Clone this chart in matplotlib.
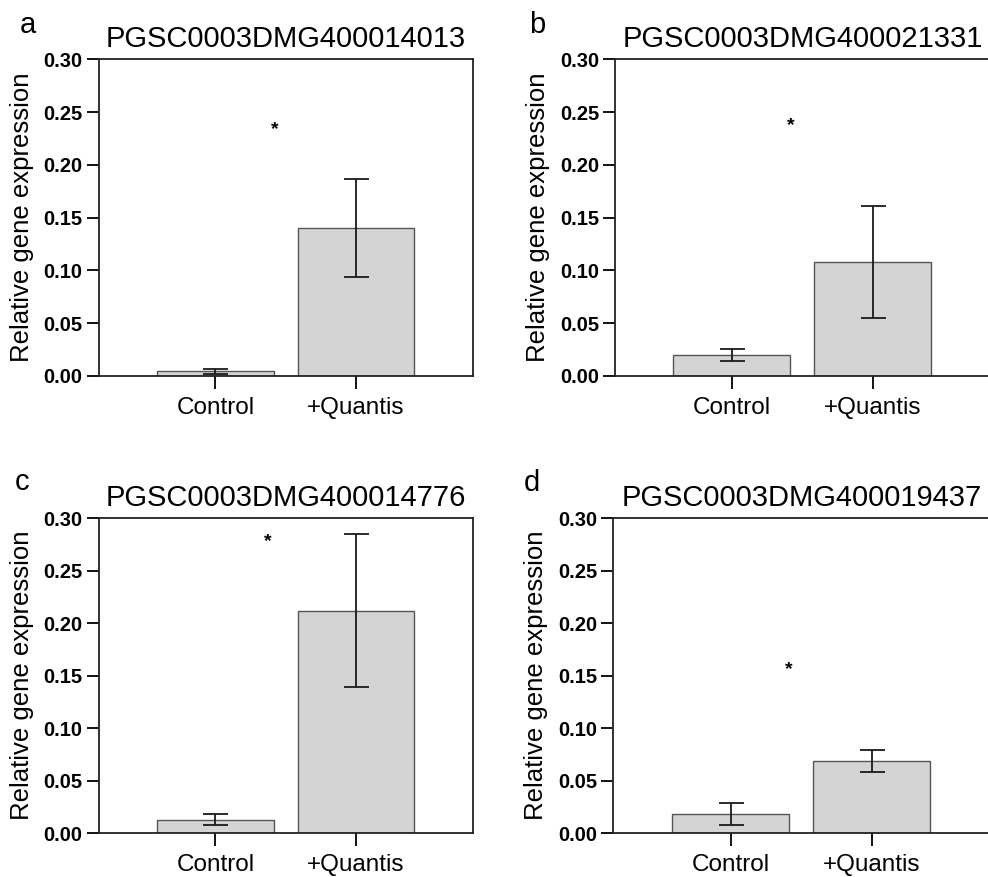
import matplotlib
matplotlib.use('Agg')
import matplotlib.pyplot as plt
import numpy as np

plt.rcParams['font.family'] = ['Liberation Sans', 'DejaVu Sans']

# datos
genes = ['PGSC0003DMG400014013', 'PGSC0003DMG400021331',
         'PGSC0003DMG400014776', 'PGSC0003DMG400019437']
letras = ['a', 'b', 'c', 'd']
grupos = ['Control', '+Quantis']

media_control = [0.0045, 0.020, 0.013, 0.018]
media_quantis = [0.140, 0.108, 0.212, 0.069]
err_control = [0.0025, 0.0055, 0.0054, 0.0107]
err_quantis = [0.0465, 0.0534, 0.0727, 0.0103]

# posicion del asterisco (x en unidades de barra, y en datos)
ast_x = [0.42, 0.42, 0.37, 0.41]
ast_y = [0.233, 0.237, 0.278, 0.156]

ticks_y = [0.00, 0.05, 0.10, 0.15, 0.20, 0.25, 0.30]

fig = plt.figure(figsize=(9.88, 8.77), dpi=100)

# posiciones de los ejes en fraccion de figura
pos = [
    [0.0999, 0.5713, 0.3785, 0.3611],
    [0.6225, 0.5713, 0.3800, 0.3611],
    [0.0999, 0.0500, 0.3785, 0.3590],
    [0.6208, 0.0500, 0.3810, 0.3590],
]
pos_letra = [(0.020, 0.962), (0.535, 0.962), (0.015, 0.441), (0.530, 0.440)]

for i in range(4):
    ax = fig.add_axes(pos[i])
    x = np.arange(2)
    medias = [media_control[i], media_quantis[i]]
    errores = [err_control[i], err_quantis[i]]
    ax.bar(x, medias, width=0.83, color='#d4d4d4', edgecolor='#555555',
           linewidth=1.0, zorder=2)
    ax.errorbar(x, medias, yerr=errores, fmt='none', ecolor='#1a1a1a',
                elinewidth=1.3, capsize=9, capthick=1.3, zorder=3)
    # los paneles de la derecha se cortan en el borde
    if i in (1, 3):
        ax.set_xlim(-0.83, 1.83 + 0.006)
    else:
        ax.set_xlim(-0.83, 1.83)
    ax.set_ylim(0, 0.30)
    ax.set_yticks(ticks_y)
    ax.set_yticklabels(['%.2f' % v for v in ticks_y], fontsize=14.5,
                       fontweight='bold')
    ax.set_xticks(x)
    ax.set_xticklabels(grupos, fontsize=17.5)
    ax.tick_params(axis='y', length=8.5, width=1.3, pad=3)
    ax.tick_params(axis='x', length=9, width=1.3, pad=6)
    for s in ax.spines.values():
        s.set_linewidth(1.3)
        s.set_color('#222222')
    ax.set_ylabel('Relative gene expression', fontsize=18.5, va='center')
    ax.yaxis.set_label_coords(-0.205, 0.5)
    ax.set_title(genes[i], fontsize=21, pad=9)
    ax.text(ast_x[i], ast_y[i], '*', fontsize=14, fontweight='bold',
            ha='center', va='center')
    fig.text(pos_letra[i][0], pos_letra[i][1], letras[i], fontsize=21,
             ha='left', va='baseline')

plt.savefig('out.png', dpi=100)
